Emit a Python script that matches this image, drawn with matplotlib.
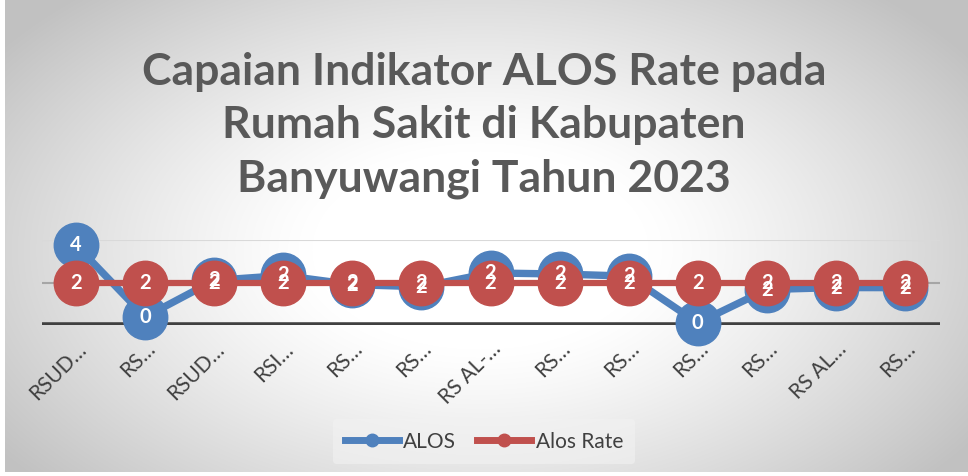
import numpy as np
import matplotlib.pyplot as plt
from matplotlib.lines import Line2D

plt.rcParams['font.family'] = ['Lato', 'DejaVu Sans']

# data
categories = ['RSUD…', 'RS…', 'RSUD…', 'RSI…', 'RS…', 'RS…', 'RS AL-…',
              'RS…', 'RS…', 'RS…', 'RS…', 'RS AL…', 'RS…']
alos = [3.76, 0.38, 2.1, 2.33, 1.9, 1.8, 2.45, 2.4, 2.3, 0.1, 1.67, 1.76, 1.76]
alos_rate = [2, 2, 2, 2, 2, 2, 2, 2, 2, 2, 2, 2, 2]

blue = '#4F81BD'
red = '#C0504D'
grey_txt = '#595959'

fig = plt.figure(figsize=(9.68, 4.76), dpi=100)

# radial grey background
bg = fig.add_axes([0, 0, 1, 1], zorder=-10)
W, H = 968, 476
xx, yy = np.meshgrid(np.arange(W), np.arange(H))
r = np.sqrt(((xx - 480) / 560.0) ** 2 + ((yy - 250) / 330.0) ** 2)
v = 1 - 0.24 * np.clip((r - 0.3) / 0.75, 0, 1) ** 1.2
img = np.dstack([v, v, v])
img[:, :5] = 1
img[-4:, :] = 1
bg.imshow(img, aspect='auto', extent=[0, 1, 0, 1])
bg.axis('off')

ax = fig.add_axes([0.0429, 0.3172, 0.9277, 0.1786])
ax.set_facecolor('none')
x = np.arange(len(categories))

ax.plot(x, alos, color=blue, lw=5.3, marker='o', ms=32, clip_on=False, zorder=3,
        solid_capstyle='round')
ax.plot(x, alos_rate, color=red, lw=4.5, marker='o', ms=32, clip_on=False, zorder=4)

for xi, v_ in zip(x, alos):
    ax.text(xi, v_, f'{v_:.0f}', color='white', fontsize=14.5, fontweight='bold',
            ha='center', va='center', zorder=6, clip_on=False)
for xi, v_ in zip(x, alos_rate):
    ax.text(xi, v_, f'{v_:.0f}', color='white', fontsize=14.5, fontweight='bold',
            ha='center', va='center', zorder=5, clip_on=False)

ax.set_xlim(-0.5, len(categories) - 0.5)
ax.set_ylim(0, 4)
ax.axhline(4, color='#d9d9d9', lw=1.5, zorder=1)
ax.axhline(2, color='#a6a6a6', lw=1.5, zorder=1)
ax.axhline(0, color='#404040', lw=4, zorder=2)
for s in ax.spines.values():
    s.set_visible(False)
ax.set_yticks([])
ax.set_xticks(x)
ax.set_xticklabels(categories, rotation=45, ha='right', rotation_mode='anchor',
                   fontsize=15, color='#404040')
ax.tick_params(axis='x', length=0, pad=10)

fig.text(0.5, 0.737, 'Capaian Indikator ALOS Rate pada\nRumah Sakit di Kabupaten\nBanyuwangi Tahun 2023',
         ha='center', va='center', fontsize=32, fontweight='bold', color=grey_txt,
         linespacing=1.4)

handles = [Line2D([], [], color=blue, lw=5, marker='o', ms=9),
           Line2D([], [], color=red, lw=5, marker='o', ms=9)]
leg = fig.legend(handles, ['ALOS', 'Alos Rate'], loc='center', bbox_to_anchor=(0.5, 0.072),
                 ncol=2, frameon=True, fontsize=15, handlelength=2.6, columnspacing=1.0,
                 handletextpad=0.2, borderpad=0.6)
leg.get_frame().set_facecolor('#f2f2f2')
leg.get_frame().set_edgecolor('none')
leg.get_frame().set_alpha(0.6)
for t in leg.get_texts():
    t.set_color('#404040')

fig.savefig('out.png', dpi=100)
